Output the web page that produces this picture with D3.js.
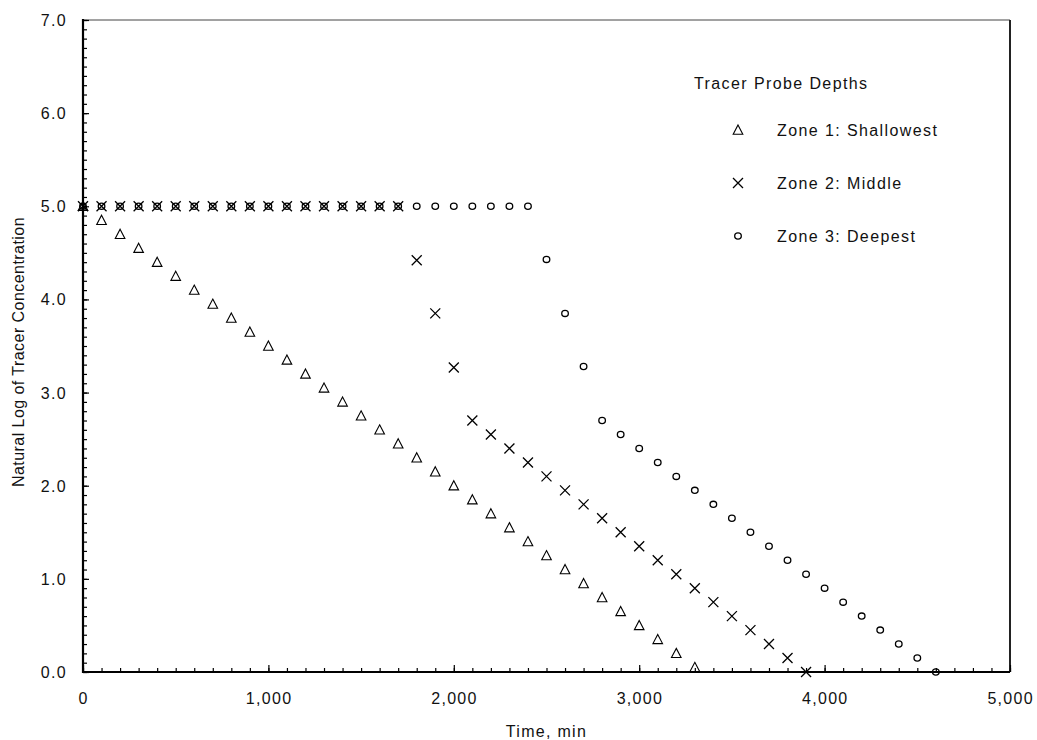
<!DOCTYPE html>
<html><head><meta charset="utf-8">
<script src="https://cdn.jsdelivr.net/npm/d3@7"></script>
<style>
body{margin:0;background:#fff;}
text{font-family:"Liberation Sans",Arial,sans-serif;fill:#111;}
</style></head>
<body><svg id="c" width="1037" height="740"></svg>
<script>
const zone1Times = [0,100,200,300,400,500,600,700,800,900,1000,1100,1200,1300,1400,1500,1600,1700,1800,1900,2000,2100,2200,2300,2400,2500,2600,2700,2800,2900,3000,3100,3200,3300];
const zone1Values = [5.00,4.85,4.70,4.55,4.40,4.25,4.10,3.95,3.80,3.65,3.50,3.35,3.20,3.05,2.90,2.75,2.60,2.45,2.30,2.15,2.00,1.85,1.70,1.55,1.40,1.25,1.10,0.95,0.80,0.65,0.50,0.35,0.20,0.05];
const zone2Times = [0,100,200,300,400,500,600,700,800,900,1000,1100,1200,1300,1400,1500,1600,1700,1800,1900,2000,2100,2200,2300,2400,2500,2600,2700,2800,2900,3000,3100,3200,3300,3400,3500,3600,3700,3800,3900];
const zone2Values = [5,5,5,5,5,5,5,5,5,5,5,5,5,5,5,5,5,5,4.42,3.85,3.27,2.70,2.55,2.40,2.25,2.10,1.95,1.80,1.65,1.50,1.35,1.20,1.05,0.90,0.75,0.60,0.45,0.30,0.15,0.00];
const zone3Times = [0,100,200,300,400,500,600,700,800,900,1000,1100,1200,1300,1400,1500,1600,1700,1800,1900,2000,2100,2200,2300,2400,2500,2600,2700,2800,2900,3000,3100,3200,3300,3400,3500,3600,3700,3800,3900,4000,4100,4200,4300,4400,4500,4600];
const zone3Values = [5,5,5,5,5,5,5,5,5,5,5,5,5,5,5,5,5,5,5,5,5,5,5,5,5,4.43,3.85,3.28,2.70,2.55,2.40,2.25,2.10,1.95,1.80,1.65,1.50,1.35,1.20,1.05,0.90,0.75,0.60,0.45,0.30,0.15,0.00];
const xTickValues = [0,1000,2000,3000,4000,5000];
const yTickValues = [0,1,2,3,4,5,6,7];
const legendTitle = "Tracer Probe Depths";
const legendLabels = ["Zone 1: Shallowest","Zone 2: Middle","Zone 3: Deepest"];

const svg = d3.select("#c");
const L=83, R=1010, T=20, B=672;
const x = d3.scaleLinear().domain([0,5000]).range([L,R]);
const y = d3.scaleLinear().domain([0,7]).range([B,T]);

// frame
svg.append("line").attr("x1",L).attr("x2",R).attr("y1",T).attr("y2",T).attr("stroke","#444").attr("stroke-width",1);
svg.append("line").attr("x1",R).attr("x2",R).attr("y1",T).attr("y2",B).attr("stroke","#222").attr("stroke-width",2);

const xMinor = d3.range(0,5001,100);
const yMinor = d3.range(0,71,1).map(d=>d/10);
function tickAxis(axis, tr, vals, size){
  const g = svg.append("g").attr("transform",tr).call(axis.tickValues(vals).tickSize(size).tickFormat(""));
  g.select(".domain").remove();
  g.selectAll("line").attr("stroke","#000").attr("stroke-width",1.2);
}
tickAxis(d3.axisTop(x), `translate(0,${B})`, xMinor, 4);
tickAxis(d3.axisTop(x), `translate(0,${B})`, xTickValues, 7);
tickAxis(d3.axisRight(y), `translate(${L},0)`, yMinor, 4);
tickAxis(d3.axisRight(y), `translate(${L},0)`, yTickValues, 6);

// axis lines
svg.append("line").attr("x1",L-1).attr("x2",R).attr("y1",B).attr("y2",B).attr("stroke","#000").attr("stroke-width",2.2);
svg.append("line").attr("x1",L).attr("x2",L).attr("y1",T-1).attr("y2",B+1).attr("stroke","#000").attr("stroke-width",2.2);

// tick labels
const fmtX = d3.format(",");
svg.append("g").selectAll("text").data(xTickValues).join("text")
  .attr("x",d=>x(d)+0.7).attr("y",B+32).attr("text-anchor","middle")
  .attr("font-size",16).attr("letter-spacing",1.3).text(d=>fmtX(d));
svg.append("g").selectAll("text").data(yTickValues).join("text")
  .attr("x",L-16).attr("y",d=>y(d)+6).attr("text-anchor","end")
  .attr("font-size",16).attr("letter-spacing",1.3).text(d=>d.toFixed(1));

svg.append("text").attr("x",(L+R)/2).attr("y",737).attr("text-anchor","middle")
  .attr("font-size",16).attr("letter-spacing",1.3).text("Time, min");
svg.append("text").attr("transform",`translate(24,${352}) rotate(-90)`).attr("text-anchor","middle")
  .attr("font-size",16).attr("letter-spacing",0.45).text("Natural Log of Tracer Concentration");

// symbols
function drawTri(g,cx,cy){
  g.append("path").attr("d",`M${cx},${cy-5} L${cx+4.8},${cy+4.2} L${cx-4.8},${cy+4.2} Z`).attr("fill","none").attr("stroke","#000").attr("stroke-width",1.1);
}
function drawX(g,cx,cy){
  g.append("path").attr("d",`M${cx-5},${cy-5} L${cx+5},${cy+5} M${cx+5},${cy-5} L${cx-5},${cy+5}`).attr("fill","none").attr("stroke","#000").attr("stroke-width",1.3);
}
function drawO(g,cx,cy){
  g.append("ellipse").attr("cx",cx).attr("cy",cy).attr("rx",3.3).attr("ry",3.1).attr("fill","none").attr("stroke","#000").attr("stroke-width",1.3);
}
const gm = svg.append("g");
zone3Times.forEach((t,i)=>drawO(gm,x(t),y(zone3Values[i])));
zone2Times.forEach((t,i)=>drawX(gm,x(t),y(zone2Values[i])));
zone1Times.forEach((t,i)=>drawTri(gm,x(t),y(zone1Values[i])));

// legend
svg.append("text").attr("x",694).attr("y",89).attr("font-size",16).attr("letter-spacing",1.4).text(legendTitle);
const ly=[130,183,236];
drawTri(svg,738,ly[0]); drawX(svg,738,ly[1]); drawO(svg,738,ly[2]);
legendLabels.forEach((l,i)=>svg.append("text").attr("x",777).attr("y",ly[i]+6).attr("font-size",16).attr("letter-spacing",1.4).text(l));
</script></body></html>
